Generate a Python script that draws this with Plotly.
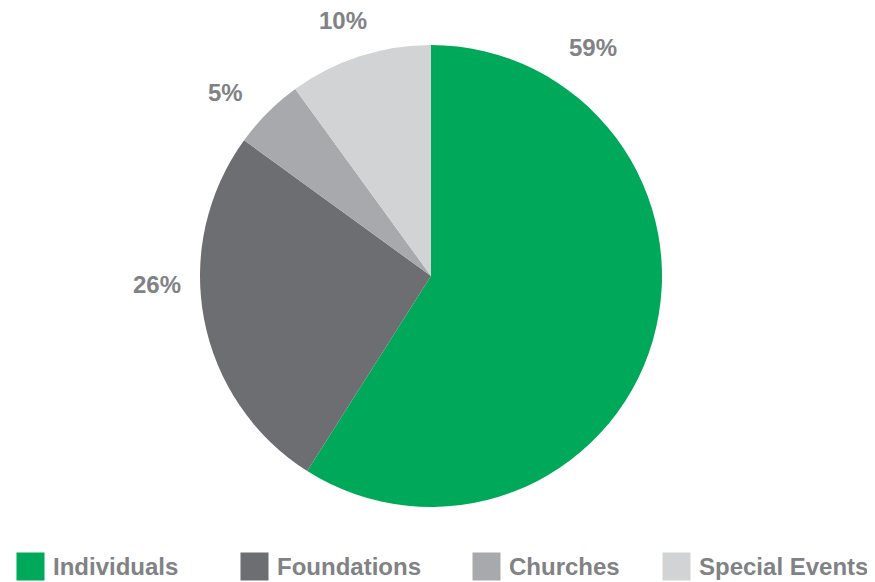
import plotly.graph_objects as go

# ---- data ----
categories = ["Individuals", "Foundations", "Churches", "Special Events"]
values = [59, 26, 5, 10]
pct_labels = ["59%", "26%", "5%", "10%"]

# ---- style ----
colors = ["#00A859", "#6D6E71", "#A7A9AC", "#D1D3D4"]
text_color = "#808285"
PAGE_W, PAGE_H = 875, 582
OFF = 8  # default page body margin
W, H = PAGE_W - OFF, PAGE_H - OFF
# label anchor positions (page pixels, layout only)
label_pos = [(593, 48), (157, 285), (225, 92), (343, 20)]
# legend layout (page pixels)
legend_box_x = [16, 240, 472, 662]
legend_y = 566
box = 27


def px_x(x):
    return (x - OFF) / W


def px_y(y):
    return 1 - (y - OFF) / H


cx, cy, r = 431, 276, 231

fig = go.Figure()
fig.add_trace(go.Pie(
    labels=categories,
    values=values,
    sort=False,
    direction="clockwise",
    rotation=0,
    marker=dict(colors=colors, line=dict(width=0)),
    textinfo="none",
    hoverinfo="label+percent",
    showlegend=False,
    domain=dict(x=[px_x(cx - r), px_x(cx + r)], y=[px_y(cy + r), px_y(cy - r)]),
))

annotations = []
for txt, (lx, ly) in zip(pct_labels, label_pos):
    annotations.append(dict(
        x=px_x(lx), y=px_y(ly), xref="paper", yref="paper",
        text="<b>%s</b>" % txt, showarrow=False,
        font=dict(family="Liberation Sans, Arial, sans-serif", size=24, color=text_color),
        xanchor="center", yanchor="middle",
    ))

for name, col, bx in zip(categories, colors, legend_box_x):
    annotations.append(dict(
        x=px_x(bx), y=px_y(legend_y), xref="paper", yref="paper",
        text=" ", showarrow=False, width=box, height=box, bgcolor=col,
        borderpad=0, xanchor="left", yanchor="middle",
        font=dict(size=10),
    ))
    annotations.append(dict(
        x=px_x(bx + box + 8), y=px_y(legend_y), xref="paper", yref="paper",
        text="<b>%s</b>" % name, showarrow=False,
        font=dict(family="Liberation Sans, Arial, sans-serif", size=24, color=text_color),
        xanchor="left", yanchor="middle",
    ))

fig.update_layout(
    width=W, height=H,
    margin=dict(l=0, r=0, t=0, b=0),
    paper_bgcolor="white", plot_bgcolor="white",
    annotations=annotations,
)

fig.write_html("out.html")
